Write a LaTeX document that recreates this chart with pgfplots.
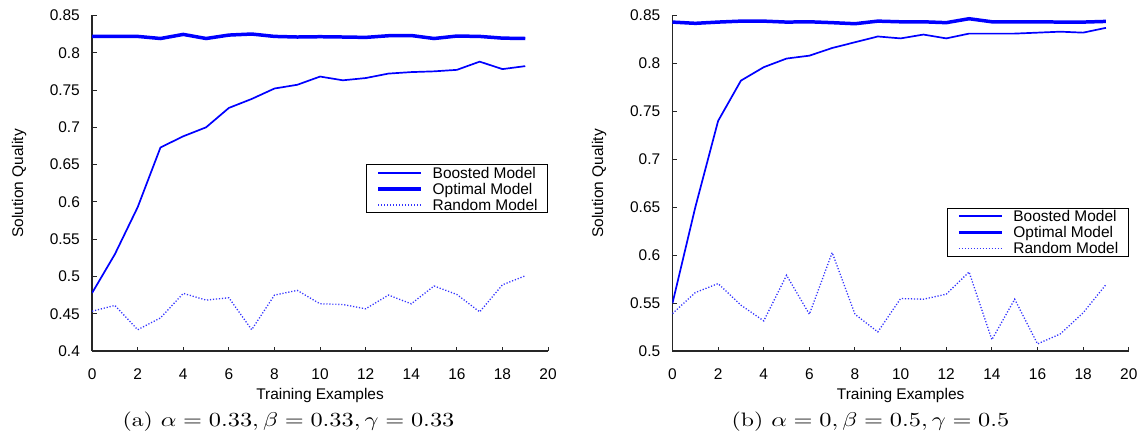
\documentclass[border=0pt]{standalone}
\usepackage{graphicx}
\usepackage{pgfplots}
\pgfplotsset{compat=1.18}
\usepackage{fontspec}
\setmainfont{Latin Modern Roman}
\newfontfamily\helv{Liberation Sans}
\newcommand\gpfont{\helv\fontsize{7.75}{8}\selectfont}

\pgfplotstableread{
x boosted optimal random
0  0.478 0.8218 0.4536
1  0.530 0.8218 0.4613
2  0.593 0.8218 0.4288
3  0.673 0.8190 0.4446
4  0.688 0.8245 0.4775
5  0.700 0.8190 0.4685
6  0.726 0.8236 0.4716
7  0.738 0.8250 0.4288
8  0.752 0.8218 0.4752
9  0.757 0.8210 0.4815
10 0.768 0.8214 0.4635
11 0.763 0.8210 0.4626
12 0.766 0.8205 0.4568
13 0.772 0.8227 0.4752
14 0.774 0.8230 0.4635
15 0.775 0.8190 0.4874
16 0.777 0.8223 0.4760
17 0.788 0.8218 0.4527
18 0.778 0.8195 0.4890
19 0.782 0.8190 0.5010
}\tableA

\pgfplotstableread{
x boosted optimal random
0  0.550 0.8430 0.5392
1  0.650 0.8417 0.5611
2  0.740 0.8430 0.5705
3  0.782 0.8440 0.5480
4  0.796 0.8440 0.5316
5  0.805 0.8430 0.5792
6  0.808 0.8433 0.5385
7  0.816 0.8424 0.6028
8  0.822 0.8413 0.5385
9  0.828 0.8440 0.5201
10 0.826 0.8433 0.5549
11 0.830 0.8433 0.5542
12 0.826 0.8424 0.5594
13 0.831 0.8465 0.5826
14 0.831 0.8433 0.5120
15 0.831 0.8433 0.5542
16 0.832 0.8433 0.5076
17 0.833 0.8430 0.5180
18 0.832 0.8430 0.5400
19 0.837 0.8437 0.5694
}\tableB

\pgfplotsset{
  gp/.style={
    scale only axis, clip mode=individual,
    axis x line*=bottom, axis y line*=left,
    axis line style={-, line width=0.75pt, black!85},
    tick align=inside, major tick length=2.3pt,
    tick style={line width=0.5pt, black!85},
    xmin=0, xmax=20, xtick={0,2,...,20},
    font=\gpfont,
    ticklabel style={font=\gpfont},
    /pgf/number format/assume math mode=true,
    xticklabel style={yshift=-5.2pt},
    yticklabel style={xshift=-2.6pt, /pgf/number format/fixed, /pgf/number format/precision=2},
    xlabel={Training Examples},
    ylabel={Solution Quality},
    xlabel style={at={(axis description cs:0.5,-0.131)}, anchor=center},
    legend cell align=left,
    legend image code/.code={\draw[##1] (0pt,0pt) -- (21.5pt,0pt);},
    legend style={font=\gpfont, draw=black, line width=0.5pt,
      inner xsep=5pt, inner ysep=0pt, row sep=0pt, column sep=5pt,
      nodes={inner xsep=0pt, inner ysep=0pt, text height=6.7pt, text depth=1.3pt}},
  },
  boosted/.style={blue, line width=0.85pt},
  optimal/.style={blue, line width=1.75pt},
  randomm/.style={blue!80, line width=0.65pt, dash pattern=on 0.6pt off 0.9pt},
}

\begin{document}
\begin{tikzpicture}
\path (-46.15pt,-41pt) rectangle (525.85pt,176pt);
\begin{axis}[gp, at={(0,0)}, anchor=origin,
  width=228.5pt, height=168.3pt, ymin=0.4, ymax=0.85, ytick={0.4,0.45,...,0.86},
  ylabel style={at={(axis description cs:-0.160,0.5)}, anchor=center},
  legend style={at={(axis description cs:1,0.556)}, anchor=north east}]
\addplot[boosted] table[x=x,y=boosted] {\tableA};
\addlegendentry{Boosted Model}
\addplot[optimal] table[x=x,y=optimal] {\tableA};
\addlegendentry{Optimal Model}
\addplot[randomm] table[x=x,y=random] {\tableA};
\addlegendentry{Random Model\hspace{3pt}}
\node[inner sep=0pt, anchor=base west, font=\fontsize{9.75}{11}\selectfont]
  at (axis description cs:0.066,-0.225) {\scalebox{1.22}[1]{(a) $\alpha=0.33,\beta=0.33,\gamma=0.33$}};
\end{axis}
\begin{axis}[gp, at={(290.85pt,0)}, anchor=origin,
  width=228.65pt, height=168.3pt, ymin=0.5, ymax=0.85, ytick={0.5,0.55,...,0.86},
  ylabel style={at={(axis description cs:-0.161,0.5)}, anchor=center},
  legend style={at={(axis description cs:1,0.427)}, anchor=north east}]
\addplot[boosted] table[x=x,y=boosted] {\tableB};
\addlegendentry{Boosted Model}
\addplot[optimal] table[x=x,y=optimal] {\tableB};
\addlegendentry{Optimal Model}
\addplot[randomm] table[x=x,y=random] {\tableB};
\addlegendentry{Random Model\hspace{3pt}}
\node[inner sep=0pt, anchor=base west, font=\fontsize{9.75}{11}\selectfont]
  at (axis description cs:0.129,-0.225) {\scalebox{1.22}[1]{(b) $\alpha=0,\beta=0.5,\gamma=0.5$}};
\end{axis}
\end{tikzpicture}
\end{document}
